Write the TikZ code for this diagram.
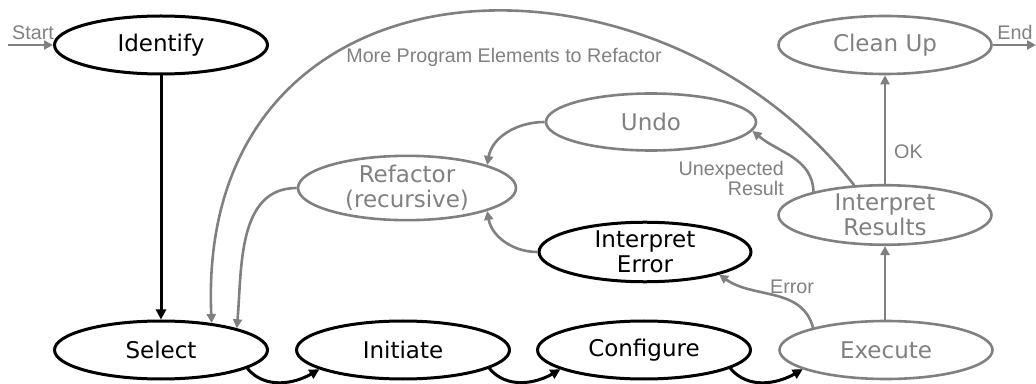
\documentclass[tikz,border=0pt]{standalone}
\usepackage{fontspec}
\setmainfont{Liberation Sans}
\newfontfamily\nodefont{DejaVu Sans}
\usetikzlibrary{shapes.geometric,arrows.meta}
\definecolor{gry}{HTML}{808080}
\tikzset{
  ell/.style={ellipse, inner sep=0pt, minimum width=213pt, minimum height=58pt,
    align=center, font=\nodefont\fontsize{23}{25}\selectfont},
  bnode/.style={ell, draw=black, line width=3pt, text=black},
  gnode/.style={ell, draw=gry, line width=2.6pt, text=gry},
  barrow/.style={draw=black, line width=3pt, -{Triangle[length=10pt,width=10pt]}},
  garrow/.style={draw=gry, line width=2.6pt, -{Triangle[length=9pt,width=9pt]}},
  lbl/.style={text=gry, inner sep=0pt, font=\fontsize{19.7}{20}\selectfont}
}
\begin{document}
\begin{tikzpicture}[x=1pt,y=1pt]
\useasboundingbox (0,0) rectangle (1036,383);
% nodes
\node[bnode] (identify) at (161,338) {Identify};
\node[bnode] (select) at (161,33) {Select};
\node[bnode] (initiate) at (403,33) {Initiate};
\node[bnode] (configure) at (644,33) {Configure};
\node[gnode] (execute) at (886,33) {Execute};
\node[gnode, minimum height=54pt] (ir) at (885,168) {Interpret\\Results};
\node[gnode] (cleanup) at (885,338) {Clean Up};
\node[gnode, minimum width=210pt, minimum height=57pt] (undo) at (651,261) {Undo};
\node[gnode, minimum width=218pt, minimum height=64pt] (refactor) at (407,195) {Refactor\\(recursive)};
\node[bnode, minimum width=212pt, minimum height=56pt] (ie) at (645,131) {Interpret\\Error};
% free ends
\coordinate (s) at (8,338);
\coordinate (e) at (1036,338);
% labels
\node[lbl] (lstart) at (33,350) {Start};
\node[lbl] (lend) at (1015,351) {End};
\node[lbl] (lmore) at (504,326) {More Program Elements to Refactor};
\node[lbl, anchor=east, align=right] (lunexp) at (784,205) {Unexpected\\Result};
\node[lbl, anchor=west] (lok) at (894,231) {OK};
\node[lbl] (lerr) at (792,96) {Error};
% connectors
\draw[garrow] (s) -- (identify.west);
\draw[garrow] (cleanup.east) -- (e);
\draw[barrow] (identify) -- (select);
\draw[barrow] (select.-12) to[out=-50, in=-150] (initiate.-167);
\draw[barrow] (initiate.-12) to[out=-50, in=-150] (configure.-167);
\draw[barrow] (configure.-12) to[out=-50, in=-150] (execute.-167);
\draw[garrow] (execute.north -| ir.south) -- (ir.south);
\draw[garrow] (ir) -- (cleanup);
\draw[garrow] (execute.163) to[out=105, in=-35] (ie.-17);
\draw[garrow] (ir.162) to[out=92, in=-40] (undo.-5);
\draw[garrow] (ir.136) .. controls (650,458) and (195,438) .. (select.28);
\draw[garrow] (undo.west) to[out=180, in=80] (refactor.16);
\draw[garrow] (ie.west) to[out=180, in=-80] (refactor.-16);
\draw[garrow] (refactor.west) to[out=180, in=85] (select.16);
\end{tikzpicture}
\end{document}
